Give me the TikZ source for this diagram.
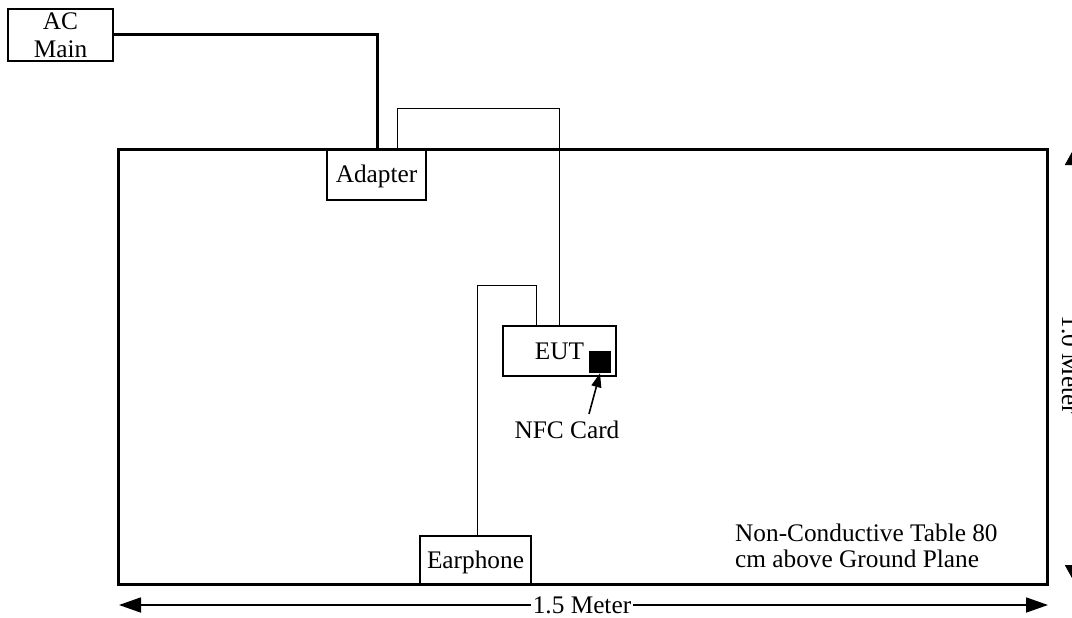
\documentclass[tikz,border=0pt]{standalone}
\usepackage{fontspec}
\setmainfont{Liberation Serif}
\usetikzlibrary{arrows.meta}
\begin{document}
\begin{tikzpicture}[x=1pt,y=-1pt,
  box/.style={draw, line width=1.3pt, inner sep=0pt, text height=16.8pt, text depth=0pt, font=\fontsize{25.3}{28}\selectfont},
  lbl/.style={inner sep=0pt, font=\fontsize{25.3}{26}\selectfont},
  heavywire/.style={line width=3pt},
  wire/.style={line width=1pt},
  dimline/.style={line width=1.8pt, {Triangle[length=22pt,width=15pt]}-{Triangle[length=22pt,width=15pt]}},
  ptr/.style={line width=1.6pt, -{Triangle[length=14pt,width=10pt]}}]
\useasboundingbox (0,0) rectangle (1072,618);
\clip (0,0) rectangle (1072,618);
% boxes
\node[box, minimum width=105pt, minimum height=52pt, align=center, text height=, text depth=] (ac) at (60.5,35) {AC\\Main};
\node[box, minimum width=99pt, minimum height=51pt] (adapter) at (376.5,174.5) {Adapter};
\node[box, minimum width=113pt, minimum height=50pt] (eut) at (559.5,351) {EUT};
\node[fill=black, inner sep=0pt, minimum size=22pt] (nfc) at (600,362) {};
\node[box, minimum width=111pt, minimum height=48pt] (earphone) at (475.5,560) {Earphone};
% table
\node[draw, line width=3pt, inner sep=0pt, minimum width=929pt, minimum height=435pt] (table) at (583,366.5) {};
\coordinate (acin) at (377,149);
% wires
\draw[heavywire] (ac.east) -| (acin);
\draw[wire] ([xshift=20.5pt]adapter.north) -- ++(0,-40) -| (eut.north);
\draw[wire] ([xshift=-23pt]eut.north) -- ++(0,-40) -| ([xshift=1.5pt]earphone.north);
% NFC label
\node[lbl] (nfclbl) at (567,430) {NFC Card};
\draw[ptr] ([shift={(22,-7)}]nfclbl.north) -- (nfc.south);
% table text
\node[lbl, align=left, anchor=north west] (tabtext) at (735,524) {Non-Conductive Table 80\\cm above Ground Plane};
% dimensions
\coordinate (hl) at (119,605);
\coordinate (hr) at (1048,605);
\draw[dimline] (hl) -- (hr);
\node[lbl, fill=white, inner xsep=2pt, text height=16.8pt, text depth=0pt] (hlabel) at (582,605) {1.5 Meter};
\coordinate (vt) at (1073,150);
\coordinate (vb) at (1073,580);
\draw[dimline, {Triangle[length=15pt,width=16pt]}-{Triangle[length=15pt,width=16pt]}] (vt) -- (vb);
\node[lbl, rotate=-90, anchor=base, fill=white] (vlabel) at (1062,365) {1.0 Meter};
\end{tikzpicture}
\end{document}
